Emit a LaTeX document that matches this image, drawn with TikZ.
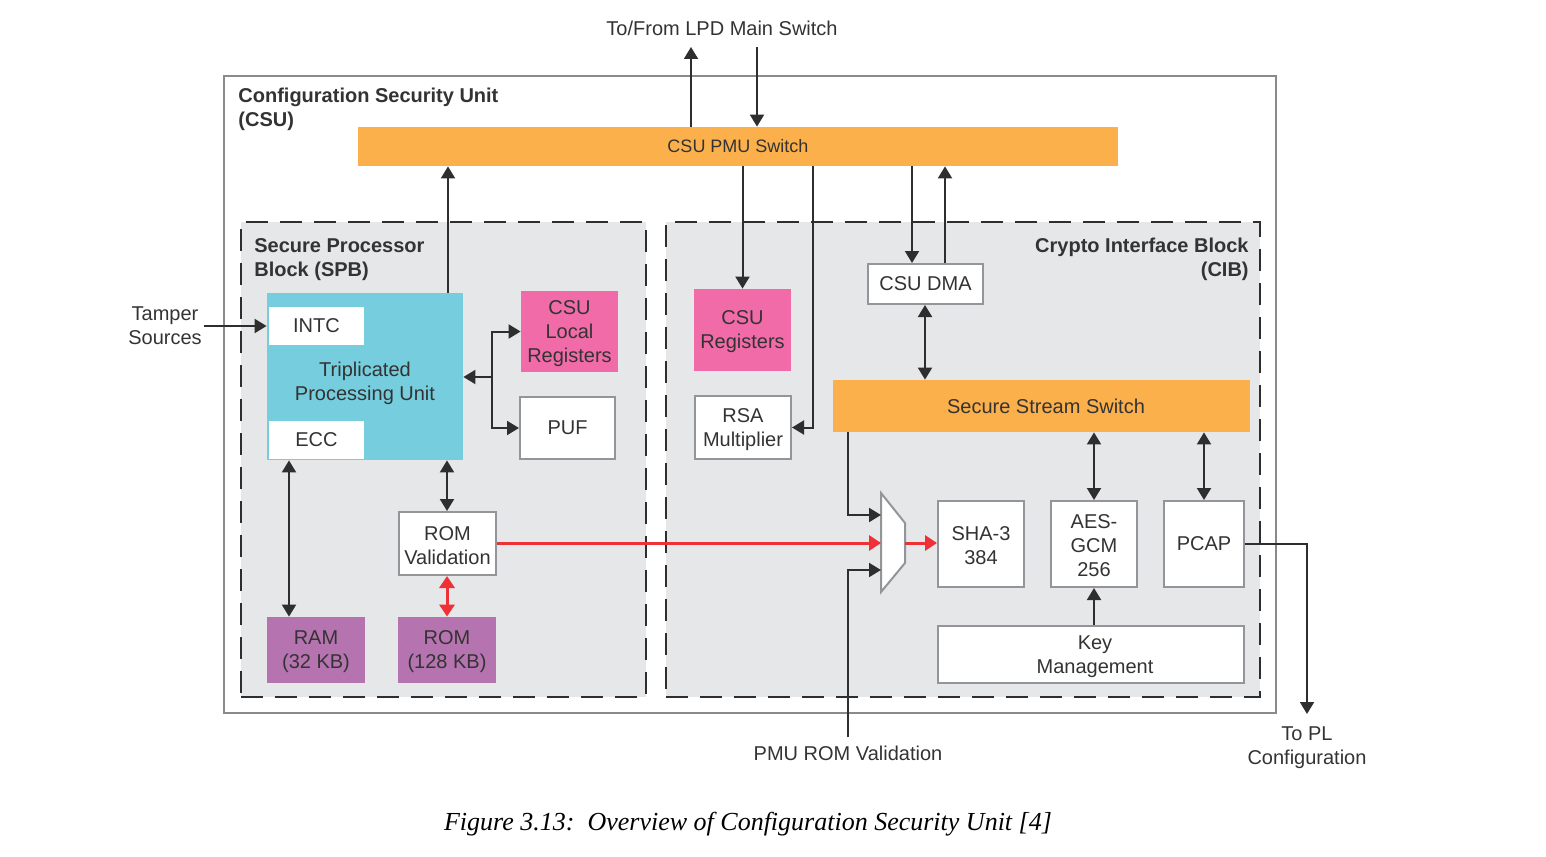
\documentclass[tikz,border=0pt]{standalone}
\usepackage{fontspec}
\setsansfont{Liberation Sans}
\newfontfamily\capfont{Liberation Serif}
\usetikzlibrary{arrows.meta}
\definecolor{orangec}{HTML}{FBB04B}
\definecolor{grayfill}{HTML}{E6E7E8}
\definecolor{cyanc}{HTML}{76CDDD}
\definecolor{pinkc}{HTML}{F06BA8}
\definecolor{purplec}{HTML}{B574B0}
\definecolor{redc}{HTML}{EE3136}
\definecolor{linec}{HTML}{2E2E2E}
\definecolor{txtc}{HTML}{333333}
\definecolor{boxgray}{HTML}{939598}
\definecolor{outergray}{HTML}{8A8A8A}
\begin{document}
\begin{tikzpicture}[x=0.5pt,y=-0.5pt,
  font=\sffamily\fontsize{10}{12}\selectfont, text=txtc,
  sz/.style 2 args={minimum width=#1*0.5pt, minimum height=#2*0.5pt},
  blk/.style={inner sep=0pt, align=center, text=txtc},
  wbox/.style={blk, draw=boxgray, line width=1pt, fill=white},
  dashbox/.style={draw=linec, line width=1pt, dash pattern=on 11pt off 6pt, fill=grayfill, inner sep=0pt},
  lbl/.style={align=center, text=txtc, inner sep=1pt},
  title/.style={font=\sffamily\bfseries\fontsize{10}{12}\selectfont, inner sep=0pt, text=txtc},
  arr/.style={draw=linec, line width=1pt, -{Triangle[length=6pt,width=7pt]}},
  darr/.style={draw=linec, line width=1pt, {Triangle[length=6pt,width=7pt]}-{Triangle[length=6pt,width=7pt]}},
  redarr/.style={draw=redc, line width=1.5pt, -{Triangle[length=6pt,width=7.5pt]}},
  reddarr/.style={draw=redc, line width=1.5pt, {Triangle[length=6pt,width=7.5pt]}-{Triangle[length=6pt,width=7.5pt]}}
]
\useasboundingbox (0,0) rectangle (1546,856);

% containers
\node[draw=outergray, line width=1pt, fill=white, sz={1052}{637}, inner sep=0pt] (csu) at (750,394.5) {};
\node[dashbox, sz={405}{475}] (spb) at (443.5,459.5) {};
\node[dashbox, sz={594}{475}] (cib) at (963,459.5) {};
\node[blk, fill=orangec, sz={760}{39}, font=\sffamily\fontsize{9}{11}\selectfont] (pmu) at (738,146.5) {CSU PMU Switch};

% titles
\node[title, anchor=north west, align=left] (csutitle) at (238,88) {Configuration Security Unit\\(CSU)};
\node[title, anchor=north west, align=left] (spbtitle) at (254,238) {Secure Processor\\Block (SPB)};
\node[title, anchor=north east, align=right] (cibtitle) at (1249,238) {Crypto Interface Block\\(CIB)};

% SPB content
\node[blk, fill=cyanc, sz={196}{167}] (tpu) at (365,376.5) {};
\node[blk] (tputxt) at (365,383) {Triplicated\\Processing Unit};
\node[blk, fill=white, sz={95}{38}] (intc) at (316.5,326) {INTC};
\node[blk, fill=white, sz={95}{38}] (ecc) at (316.5,440) {ECC};
\node[blk, fill=pinkc, sz={97}{81}] (csulocal) at (569.5,331.5) {\rule{0pt}{9pt}CSU\\Local\\Registers};
\node[wbox, sz={95}{62}] (puf) at (567.5,428) {PUF};
\node[wbox, sz={97}{63}] (romval) at (447.5,543.5) {\rule{0pt}{9pt}ROM\\Validation};
\node[blk, fill=purplec, sz={98}{66}] (ram) at (316,650) {\rule{0pt}{9pt}RAM\\(32 KB)};
\node[blk, fill=purplec, sz={98}{66}] (rom) at (447,650) {\rule{0pt}{9pt}ROM\\(128 KB)};

% CIB content
\node[blk, fill=pinkc, sz={97}{82}] (csureg) at (742.5,330) {\rule{0pt}{9pt}CSU\\Registers};
\node[wbox, sz={96}{63}] (rsa) at (743,427.5) {\rule{0pt}{9pt}RSA\\Multiplier};
\node[wbox, sz={115}{40}] (dma) at (925.5,284) {CSU DMA};
\node[blk, fill=orangec, sz={417}{52}] (sss) at (1041.5,406) {\hspace*{4.5pt}Secure Stream Switch};
\node[wbox, sz={86}{86}] (sha) at (981,544) {\rule{0pt}{9pt}SHA-3\\384};
\node[wbox, sz={86}{86}] (aes) at (1094,544) {\rule{0pt}{9pt}AES-\\GCM\\256};
\node[wbox, sz={80}{86}] (pcap) at (1204,544) {PCAP};
\node[wbox, sz={306}{57}] (key) at (1091,654.5) {\rule{0pt}{9pt}\hspace*{4pt}Key\\\hspace*{4pt}Management};

% mux
\coordinate (mi1) at (881,515);
\coordinate (mi2) at (881,543);
\coordinate (mi3) at (881,570);
\coordinate (mo) at (905,543);
\draw[draw=boxgray, line width=1pt, fill=white] (881,493) -- (905,523) -- (905,563) -- (881,592) -- cycle;

% outside labels
\node[lbl] (lpd) at (722,28) {To/From LPD Main Switch};
\node[lbl] (tamper) at (165,326) {Tamper\\Sources};
\node[lbl, anchor=north, inner sep=0pt] (pmurom) at (848,737) {\rule{0pt}{11.5pt}PMU ROM Validation};
\node[lbl, anchor=north, inner sep=0pt] (topl) at (1307,714) {\rule{0pt}{13pt}To PL\\Configuration};
\node[font=\capfont\itshape\fontsize{13}{16}\selectfont, inner sep=0pt, text=black] (cap) at (748,824) {Figure 3.13:\ \ Overview of Configuration Security Unit [4]};

% helper x positions
\coordinate (x691) at (691,47);
\coordinate (x757) at (757,47);
\coordinate (x448) at (448,0);
\coordinate (x447) at (447,0);
\coordinate (x289) at (289,0);
\coordinate (x742) at (742.5,0);
\coordinate (x813) at (813,0);
\coordinate (x912) at (912,0);
\coordinate (x945) at (945,0);
\coordinate (x925) at (925,0);
\coordinate (x848) at (848,0);
\coordinate (x1094) at (1094,0);
\coordinate (x1204) at (1204,0);
\coordinate (jn) at (492,377);

% connectors
\draw[arr] (pmu.north -| x691) -- (x691);
\draw[arr] (x757) -- (pmu.north -| x757);
\draw[arr] (tpu.north -| x448) -- (pmu.south -| x448);
\draw[arr] (tamper.east) -- (tpu.west |- intc);
\draw[arr] (jn) -- (tpu.east |- jn);
\draw[arr] (jn) |- (csulocal.west);
\draw[arr] (jn) |- (puf.west);
\draw[darr] (tpu.south -| x289) -- (ram.north -| x289);
\draw[darr] (tpu.south -| x447) -- (romval.north -| x447);
\draw[reddarr] (romval.south -| x447) -- (rom.north -| x447);
\draw[redarr] (romval.east |- mi2) -- (mi2);
\draw[redarr] (mo) -- (sha.west |- mo);
\draw[arr] (pmu.south -| x742) -- (csureg.north -| x742);
\draw[arr] (pmu.south -| x813) |- (rsa.east);
\draw[arr] (pmu.south -| x912) -- (dma.north -| x912);
\draw[arr] (dma.north -| x945) -- (pmu.south -| x945);
\draw[darr] (dma.south -| x925) -- (sss.north -| x925);
\draw[arr] (sss.south -| x848) |- (mi1);
\draw[arr] (pmurom.north) |- (mi3);
\draw[darr] (sss.south -| x1094) -- (aes.north);
\draw[darr] (sss.south -| x1204) -- (pcap.north);
\draw[arr] (key.north -| x1094) -- (aes.south);
\draw[arr] (pcap.east) -| (topl.north);
\end{tikzpicture}
\end{document}
